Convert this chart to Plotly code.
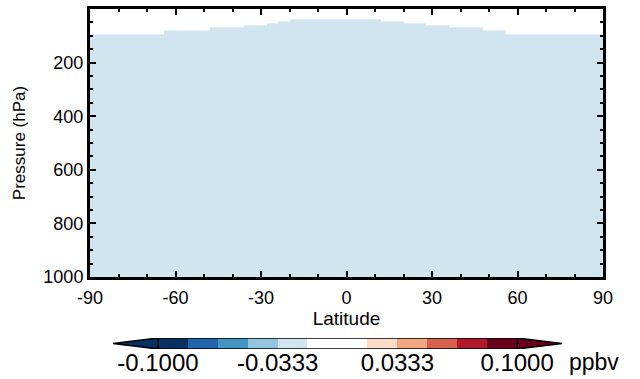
import plotly.graph_objects as go

# ---- data ----
lat_edges = [-90, -64, -48, -36, -28, -24, -20, 12, 20, 28, 36, 48, 56, 90]
trop_p = [95, 81, 70, 61, 55, 47, 38.5, 47, 55, 61, 70, 81, 95]   # hPa, top of filled region per band
field_value = -0.02          # ppbv, field value below the tropopause
p_surface = 1000

levels = [-0.1, -0.08333, -0.06667, -0.05, -0.03333, -0.01667, 0.0,
          0.01667, 0.03333, 0.05, 0.06667, 0.08333, 0.1]
colors = ["#053061", "#2166ac", "#4393c3", "#92c5de", "#d1e5f0", "#ffffff",
          "#ffffff", "#fddbc7", "#f4a582", "#d6604d", "#b2182b", "#67001f"]
cbar_ticks = [-0.1, -0.03333, 0.03333, 0.1]
cbar_ticktext = ["-0.1000", "-0.0333", "0.0333", "0.1000"]
lat_ticks = [-90, -60, -30, 0, 30, 60, 90]
lat_ticktext = ["-90", "-60", "-30", "0", "30", "60", "90"]
p_ticks = [200, 400, 600, 800, 1000]

FONT = "Liberation Sans, Arial, sans-serif"

# discrete colorscale
lo, hi = levels[0], levels[-1]
cscale = []
for i, c in enumerate(colors):
    cscale.append([(levels[i] - lo) / (hi - lo), c])
    cscale.append([(levels[i + 1] - lo) / (hi - lo), c])

# main field grid (NaN above tropopause)
p_edges = sorted(set(trop_p)) + [p_surface]
z = []
for j in range(len(p_edges) - 1):
    row = []
    for i in range(len(trop_p)):
        row.append(field_value if p_edges[j] >= trop_p[i] else None)
    z.append(row)

fig = go.Figure()
fig.add_trace(go.Heatmap(x=lat_edges, y=p_edges, z=z, colorscale=cscale,
                         zmin=lo, zmax=hi, showscale=False, hoverongaps=False))

# colour bar drawn on its own axis pair
mids = [(levels[i] + levels[i + 1]) / 2 for i in range(len(colors))]
fig.add_trace(go.Heatmap(x=levels, y=[0, 1], z=[mids], colorscale=cscale,
                         zmin=lo, zmax=hi, showscale=False, xaxis="x2", yaxis="y2"))
ext = 1.5 * (levels[1] - levels[0])
fig.add_trace(go.Scatter(x=[lo, lo - ext, lo, lo], y=[0, 0.5, 1, 0], fill="toself",
                         fillcolor=colors[0], mode="lines", line=dict(width=0),
                         xaxis="x2", yaxis="y2", showlegend=False, hoverinfo="skip"))
fig.add_trace(go.Scatter(x=[hi, hi + ext, hi, hi], y=[0, 0.5, 1, 0], fill="toself",
                         fillcolor=colors[-1], mode="lines", line=dict(width=0),
                         xaxis="x2", yaxis="y2", showlegend=False, hoverinfo="skip"))
fig.add_trace(go.Scatter(x=[lo - ext, lo, hi, hi + ext, hi, lo, lo - ext, None, lo, lo, None, hi, hi],
                         y=[0.5, 1, 1, 0.5, 0, 0, 0.5, None, 0, 1, None, 0, 1],
                         mode="lines", line=dict(color="black", width=1.5),
                         xaxis="x2", yaxis="y2", showlegend=False, hoverinfo="skip"))

W, H = 640, 379
mt, mb, ml, mr = 9, 8, 90, 37
ph = H - mt - mb
pw = W - ml - mr

def py(ypix):
    return (H - mb - ypix) / ph

def px(xpix):
    return (xpix - ml) / pw

fig.update_layout(
    width=W, height=H,
    margin=dict(l=ml, r=mr, t=mt, b=mb),
    paper_bgcolor="white", plot_bgcolor="white",
    font=dict(family=FONT, color="black", size=18),
    showlegend=False,
    xaxis=dict(domain=[0, 1], range=[-90, 90], tickvals=lat_ticks, ticktext=lat_ticktext,
               automargin=False,
               ticks="inside", ticklen=6, tickwidth=1.5, tickcolor="black",
               minor=dict(dtick=10, tick0=-90, ticks="inside", ticklen=3, tickwidth=1.5, tickcolor="black"),
               showline=True, linewidth=3, linecolor="black", mirror="ticks",
               showgrid=False, zeroline=False, tickfont=dict(size=18),
               ticklabelstandoff=2,
               title=dict(text="Latitude", font=dict(size=19), standoff=0)),
    yaxis=dict(domain=[py(277), 1], range=[1000, 0], tickvals=p_ticks,
               automargin=False,
               ticks="inside", ticklen=6, tickwidth=1.5, tickcolor="black",
               minor=dict(dtick=50, tick0=0, ticks="inside", ticklen=3, tickwidth=1.5, tickcolor="black"),
               showline=True, linewidth=3, linecolor="black", mirror="ticks",
               showgrid=False, zeroline=False, tickfont=dict(size=18),
               title=dict(text="Pressure (hPa)", font=dict(size=17), standoff=14)),
    xaxis2=dict(domain=[px(113), px(562)], range=[lo - ext, hi + ext], anchor="y2",
                automargin=False,
                tickvals=cbar_ticks, ticktext=cbar_ticktext, ticks="",
                showline=False, showgrid=False, zeroline=False,
                ticklabelstandoff=-3,
                tickfont=dict(size=24)),
    yaxis2=dict(domain=[py(349), py(338)], range=[0, 1], anchor="x2", visible=False),
    annotations=[dict(text="ppbv", x=px(594), y=py(362), xref="paper", yref="paper",
                      xanchor="center", yanchor="middle", showarrow=False,
                      font=dict(size=23))],
)

fig.write_html("out.html", config={"displayModeBar": False},
               post_script="document.body.style.margin='0';document.body.style.padding='0';")
